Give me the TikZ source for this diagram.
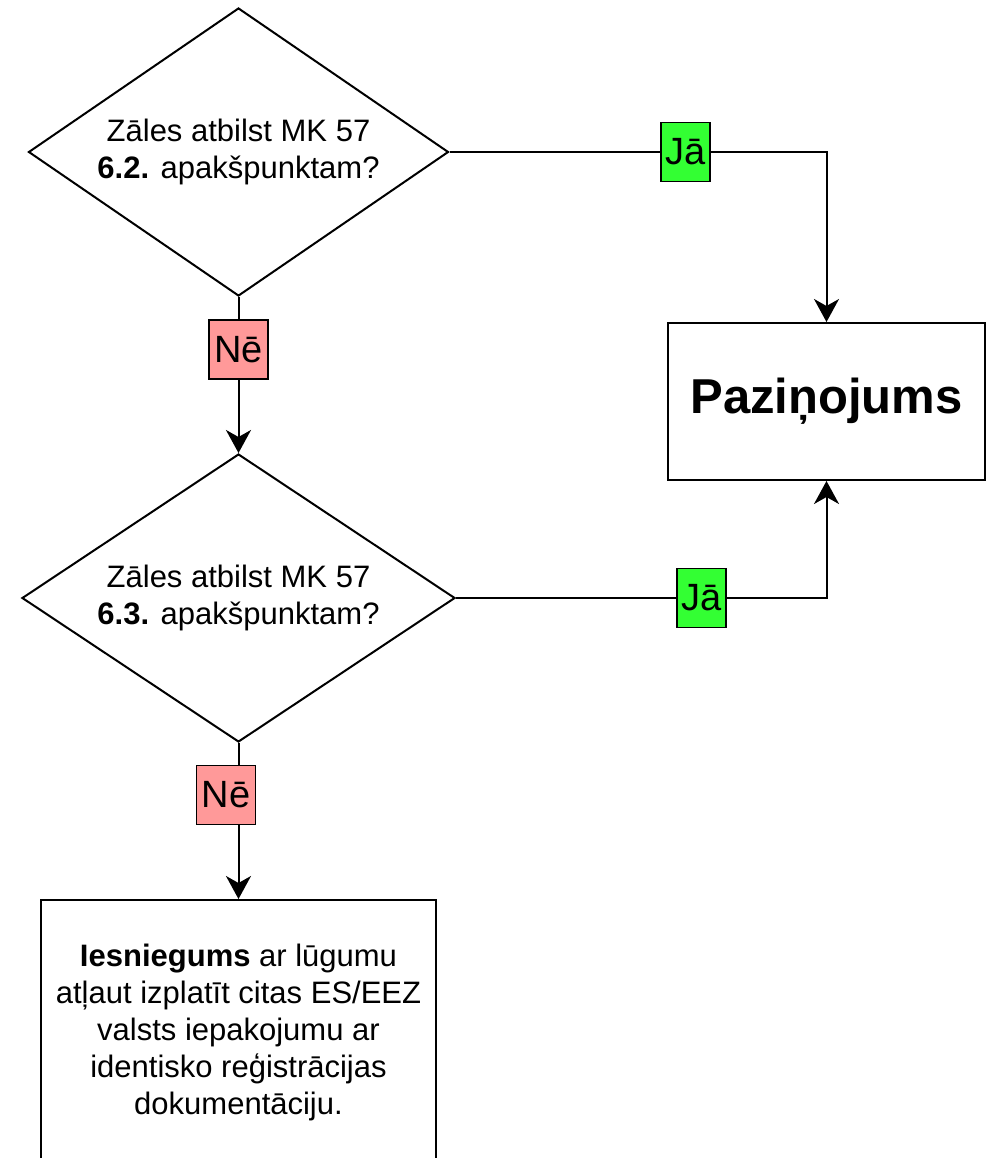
\documentclass[tikz,border=0pt]{standalone}
\usepackage{fontspec}
\setmainfont{Liberation Sans}
\usetikzlibrary{arrows.meta,shapes.geometric}
\definecolor{nored}{HTML}{FF9999}
\definecolor{yesgreen}{HTML}{33FF33}
\begin{document}
\begin{tikzpicture}[x=1pt,y=-1pt,line width=2pt,
  body/.style={font=\fontsize{31}{37}\selectfont,align=center},
  decision/.style={draw,diamond,aspect=1.46,inner sep=0pt,body},
  boxnode/.style={draw,rectangle,inner sep=0pt,body},
  nolabel/.style={draw,fill=nored,line width=1.6pt,minimum width=59pt,minimum height=59pt,inner sep=0pt,font=\fontsize{38}{38}\selectfont},
  yeslabel/.style={draw,fill=yesgreen,line width=1.6pt,minimum width=49pt,minimum height=59pt,inner sep=0pt,font=\fontsize{38}{38}\selectfont},
  arr/.style={-{Stealth[length=23pt,width=25pt,inset=7pt]}}]
\useasboundingbox (0,0) rectangle (992,1158);
\clip (0,0) rectangle (992,1158);

\node[decision,minimum width=420pt,minimum height=288pt] (d1) at (238.5,152)
  {Zāles atbilst MK 57\\\textbf{6.2.} apakšpunktam?};
\node[decision,minimum width=433pt,minimum height=288pt] (d2) at (238.5,598)
  {Zāles atbilst MK 57\\\textbf{6.3.} apakšpunktam?};
\node[boxnode,minimum width=317pt,minimum height=157pt,font=\fontsize{49}{55}\selectfont\bfseries] (paz) at (826.5,401.5) {Paziņojums};
\node[boxnode,minimum width=395pt,minimum height=264pt] (sub) at (238.5,1032)
  {\textbf{Iesniegums} ar lūgumu\\atļaut izplatīt citas ES/EEZ\\valsts iepakojumu ar\\identisko reģistrācijas\\dokumentāciju.};

\draw[arr] (d1.south) -- node[nolabel,pos=0.337] (ne1) {Nē} (d2.north);
\draw[arr] (d2.south) -- node[nolabel,pos=0.333,xshift=-12.5pt] (ne2) {Nē} (sub.north);
\draw[arr] (d1.east) -| node[yeslabel,pos=0.313] (ja1) {Jā} (paz.north);
\draw[arr] (d2.east) -| node[yeslabel,pos=0.331] (ja2) {Jā} (paz.south);
\end{tikzpicture}
\end{document}
